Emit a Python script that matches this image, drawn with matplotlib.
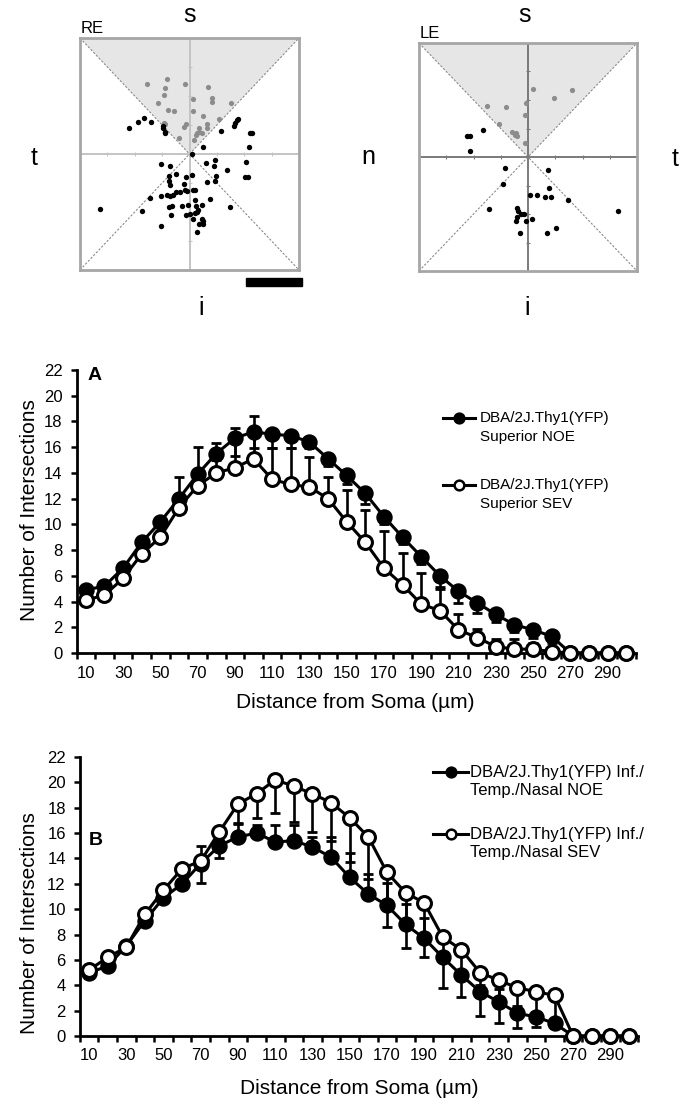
import matplotlib.pyplot as plt
from matplotlib.patches import Polygon, Rectangle
from matplotlib.lines import Line2D
import numpy as np

plt.rcParams['font.family'] = ['Liberation Sans', 'DejaVu Sans']

W, H = 695, 1115

# ---- retina maps (normalised coords, square spans -100..100) ----
re_grey_x = [-39, -21, -4, -22, 17, -23, 3, 21, 21, 38, -29, -20, -14, 3, 12, -23, -22, -3, -5, 27,
             16, 16, 9, 9, 11, 7, 6, -10, 4]
re_grey_y = [60, 65, 60, 57, 58, 51, 47, 48, 45, 44, 44, 38, 37, 37, 33, 27, 26, 26, 23, 30,
             26, 22, 22, 19, 18, 18, 16, 14, 12]
re_black_x = [-55, -47, -42, -35, -24, -24, -22, -22, 29, 42, 43, 44, 41, 55, 57, 54, 12, 2,
              -26, -18, -12, -3, 2, 15, 22, 23, 34, 52, 51, 53, 24, 23, 16, -19, -19, -18, -5, -4,
              -9, -2, 3, 5, -36, -26, -21, -18, -15, -12, 19, 5, -43, -19, -16, -7, -1, 6, 11, 8,
              7, 5, 0, -3, -17, 3, 11, 12, 12, 9, -26, 7, -82, 37]
re_black_y = [22, 28, 31, 28, 24, 22, 19, 18, 20, 27, 29, 30, 24, 18, 18, 6, 6, 0,
              -9, -10, -17, -20, -18, -8, -10, -5, -14, -7, -20, -20, -19, -23, -24, -19, -23, -27, -26, -31,
              -33, -32, -31, -31, -38, -36, -35, -36, -35, -33, -39, -40, -49, -46, -45, -45, -44, -45, -44, -48,
              -50, -51, -52, -53, -53, -56, -56, -58, -60, -60, -62, -67, -47, -46]

le_grey_x = [5, 40, 24, -38, -20, -2, -3, -27, -15, -11, -10, -12, -3]
le_grey_y = [60, 59, 52, 45, 44, 47, 37, 29, 22, 21, 18, 19, 12]
le_black_x = [-41, -56, -53, -53, -21, 18, -23, 2, 8, 16, 21, 19, 37, -36, -10, -9, -6, -4,
              -10, -11, -2, 4, -7, 17, 26, 83]
le_black_y = [24, 18, 18, 5, -10, -11, -24, -33, -33, -35, -35, -27, -38, -46, -45, -47, -50, -50,
              -53, -56, -56, -54, -67, -67, -62, -47]

# ---- Sholl profiles ----
distance = np.arange(10, 301, 10)
x_tick_values = np.arange(10, 300, 20)
x_tick_labels = [str(v) for v in x_tick_values]

noe_a = [4.9, 5.2, 6.6, 8.6, 10.2, 12.0, 13.9, 15.5, 16.7, 17.2, 17.0, 16.9, 16.4, 15.1, 13.8,
         12.4, 10.6, 9.0, 7.5, 6.0, 4.8, 3.9, 3.0, 2.2, 1.8, 1.3, 0, 0, 0, 0]
sev_a = [4.1, 4.5, 5.8, 7.7, 9.0, 11.3, 13.0, 14.0, 14.4, 15.1, 13.5, 13.1, 12.9, 12.0, 10.2,
         8.6, 6.6, 5.3, 3.8, 3.3, 1.8, 1.2, 0.5, 0.3, 0.3, 0.1, 0, 0, 0, 0]
noe_a_err = [0.3, 0.3, 0.3, 0.4, 0.4, 0.5, 0.5, 0.5, 1.4, 1.3, 1.1, 1.0, 0.5, 0.6, 0.7,
             0.8, 0.6, 0.5, 0.6, 0.9, 0.9, 0.8, 0.6, 0.6, 0.6, 0.5, 0, 0, 0, 0]
sev_a_err = [0.3, 0.3, 0.4, 0.4, 0.5, 2.4, 3.0, 2.3, 3.1, 3.3, 2.4, 2.8, 2.3, 1.7, 2.5,
             2.5, 2.9, 2.5, 2.4, 1.7, 1.2, 0.7, 0.6, 0.8, 0.5, 0.3, 0, 0, 0, 0]

noe_b = [5.0, 5.5, 7.1, 9.1, 10.9, 12.0, 13.6, 15.0, 15.7, 16.0, 15.3, 15.4, 14.9, 14.1, 12.5,
         11.2, 10.3, 8.8, 7.7, 6.2, 4.8, 3.5, 2.7, 1.8, 1.5, 1.0, 0, 0, 0, 0]
sev_b = [5.2, 6.2, 7.0, 9.6, 11.5, 13.2, 13.8, 16.1, 18.3, 19.1, 20.2, 19.7, 19.1, 18.4, 17.2,
         15.7, 12.9, 11.3, 10.5, 7.8, 6.8, 5.0, 4.4, 3.8, 3.5, 3.2, 0, 0, 0, 0]
noe_b_err = [0.2, 0.3, 0.3, 0.3, 0.3, 0.3, 1.4, 0.5, 1.0, 0.6, 1.3, 1.2, 0.8, 1.6, 1.9,
             1.6, 1.8, 1.6, 1.6, 0.4, 0.4, 0.5, 1.0, 0.6, 0.4, 0.3, 0, 0, 0, 0]
sev_b_err = [0.6, 0.3, 0.3, 0.3, 0.3, 0.4, 1.7, 2.1, 1.5, 1.9, 2.6, 2.8, 3.0, 3.0, 3.5,
             3.3, 4.3, 4.4, 4.3, 4.0, 3.7, 3.4, 3.4, 3.2, 2.8, 2.6, 0, 0, 0, 0]

labels_a = ['DBA/2J.Thy1(YFP)\nSuperior NOE', 'DBA/2J.Thy1(YFP)\nSuperior SEV']
labels_b = ['DBA/2J.Thy1(YFP) Inf./\nTemp./Nasal NOE', 'DBA/2J.Thy1(YFP) Inf./\nTemp./Nasal SEV']


def fx(x):
    return x / W


def fy(y):
    return 1 - y / H


fig = plt.figure(figsize=(W / 100, H / 100), dpi=100)


def retina(rect, gx, gy, bx, by, cross_color):
    ax = fig.add_axes(rect)
    ax.set_xlim(-100, 100)
    ax.set_ylim(-100, 100)
    ax.add_patch(Polygon([(-100, 100), (100, 100), (0, 0)], closed=True,
                         fc='#e6e6e6', ec='none', zorder=0))
    ax.plot([-100, 100], [-100, 100], color='#8a8a8a', lw=0.8, ls=(0, (2, 1.5)), zorder=1)
    ax.plot([-100, 100], [100, -100], color='#8a8a8a', lw=0.8, ls=(0, (2, 1.5)), zorder=1)
    ax.axhline(0, color=cross_color, lw=1.4, zorder=1)
    ax.axvline(0, color=cross_color, lw=1.4, zorder=1)
    tk = [-75, -50, -25, 25, 50, 75]
    ax.plot(tk, [0] * 6, ls='none', marker='|', ms=3, mew=0.8, color=cross_color, zorder=1)
    ax.plot([0] * 6, tk, ls='none', marker='_', ms=3, mew=0.8, color=cross_color, zorder=1)
    ax.scatter(gx, gy, s=14, c='#8c8c8c', lw=0, zorder=3)
    ax.scatter(bx, by, s=15, c='black', lw=0, zorder=3)
    ax.set_xticks([])
    ax.set_yticks([])
    for s in ax.spines.values():
        s.set_color('#a6a6a6')
        s.set_linewidth(2)
    return ax


retina([fx(80), fy(270), 219 / W, 232 / H], re_grey_x, re_grey_y, re_black_x, re_black_y, '#c4c4c4')
retina([fx(419), fy(271), 218 / W, 228 / H], le_grey_x, le_grey_y, le_black_x, le_black_y, '#7a7a7a')

big = dict(fontsize=18, ha='center', va='baseline')
fig.text(fx(190), fy(22), 's', **big)
fig.text(fx(525), fy(22), 's', **big)
fig.text(fx(34), fy(165), 't', **big)
fig.text(fx(368), fy(164), 'n', **big)
fig.text(fx(675), fy(166), 't', **big)
fig.text(fx(201), fy(315), 'i', **big)
fig.text(fx(527), fy(315), 'i', **big)
fig.text(fx(92), fy(33), 'RE', fontsize=12, ha='center', va='baseline')
fig.text(fx(430), fy(38), 'LE', fontsize=12, ha='center', va='baseline')
fig.add_artist(Rectangle((fx(246), fy(286)), 56 / W, 8 / H, color='black',
                         transform=fig.transFigure))


def sholl(rect, noe, sev, noe_err, sev_err, noe_down):
    ax = fig.add_axes(rect)
    zeros = np.zeros(len(distance))
    if noe_down:
        noe_yerr = [noe_err, zeros]
        sev_yerr = [zeros, sev_err]
    else:
        noe_yerr = [zeros, noe_err]
        sev_yerr = [sev_err, zeros]
    ax.errorbar(distance, noe, yerr=noe_yerr, fmt='none', ecolor='black', elinewidth=1.9,
                capsize=3.5, capthick=2.0, zorder=2, clip_on=False)
    ax.errorbar(distance, sev, yerr=sev_yerr, fmt='none', ecolor='black', elinewidth=1.9,
                capsize=3.5, capthick=2.0, zorder=2, clip_on=False)
    ax.plot(distance, noe, '-o', color='black', lw=2.2, ms=10, mfc='black', mec='black',
            mew=1.8, zorder=3, clip_on=False)
    ax.plot(distance, sev, '-o', color='black', lw=2.2, ms=10, mfc='white', mec='black',
            mew=2.2, zorder=4, clip_on=False)
    ax.set_xlim(5, 305)
    ax.set_ylim(0, 22)
    ax.set_yticks(np.arange(0, 23, 2))
    ax.set_xticks(x_tick_values)
    ax.set_xticklabels(x_tick_labels)
    ax.set_xticks(np.arange(5, 306, 10), minor=True)
    ax.tick_params(axis='x', which='major', length=0, pad=9, labelsize=12)
    ax.tick_params(axis='x', which='minor', length=4, width=1.8, direction='out')
    ax.tick_params(axis='y', length=4, width=1.8, direction='out', pad=6, labelsize=12)
    for side in ['top', 'right']:
        ax.spines[side].set_visible(False)
    for side in ['left', 'bottom']:
        ax.spines[side].set_linewidth(2)
    return ax


sholl([76.5 / W, fy(653), 559 / W, 283 / H], noe_a, sev_a, noe_a_err, sev_a_err, True)
sholl([79.7 / W, fy(1036), 558.6 / W, 279 / H], noe_b, sev_b, noe_b_err, sev_b_err, False)

fig.text(fx(88), fy(380), 'A', fontsize=14, fontweight='bold', ha='left', va='baseline')
fig.text(fx(89), fy(845), 'B', fontsize=14, fontweight='bold', ha='left', va='baseline')

for yc in [510, 923]:
    fig.text(fx(30), fy(yc), 'Number of Intersections', fontsize=15, rotation=90,
             ha='center', va='center')
for xc, yc in [(355, 703), (359, 1088)]:
    fig.text(fx(xc), fy(yc), 'Distance from Soma (µm)', fontsize=15, ha='center', va='center')


def legend_entry(x0, x1, y, label, filled, tx, fs, gap):
    fig.add_artist(Line2D([fx(x0), fx(x1)], [fy(y), fy(y)], color='black', lw=2.2,
                          transform=fig.transFigure))
    fig.add_artist(Line2D([fx((x0 + x1) / 2)], [fy(y)], marker='o', ms=7,
                          mfc='black' if filled else 'white', mec='black', mew=1.8,
                          transform=fig.transFigure))
    for k, line in enumerate(label.split('\n')):
        fig.text(fx(tx), fy(y + k * gap), line, fontsize=fs, ha='left', va='center')


legend_entry(443, 475, 418, labels_a[0], True, 480, 11, 19)
legend_entry(443, 475, 485, labels_a[1], False, 480, 11, 19)
legend_entry(433, 468, 772, labels_b[0], True, 470, 12, 19)
legend_entry(433, 468, 834, labels_b[1], False, 470, 12, 19)

fig.savefig('out.png', dpi=100)
